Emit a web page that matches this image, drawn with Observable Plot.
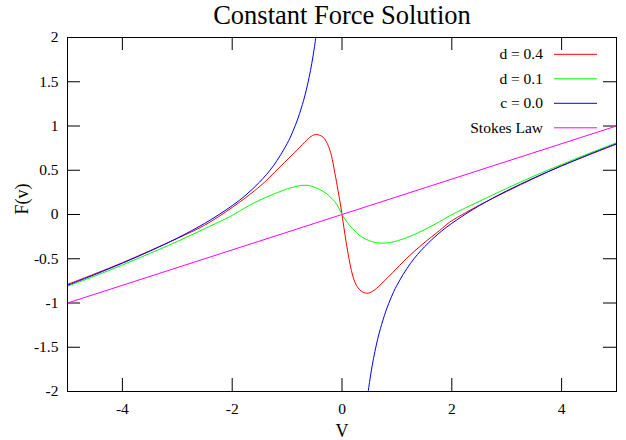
<!DOCTYPE html>
<html>
<head>
<meta charset="utf-8">
<script src="https://cdn.jsdelivr.net/npm/d3@7"></script>
<script src="https://cdn.jsdelivr.net/npm/@observablehq/plot@0.6"></script>
<style>
  html, body { margin: 0; padding: 0; background: white; }
  svg { display: block; }
  svg text { font-family: 'Liberation Serif', 'Times New Roman', serif !important; }
</style>
</head>
<body>
<div id="chart"></div>
<script>
const title = "Constant Force Solution";
const xLabel = "V";
const yLabel = "F(v)";
const xTicks = [-4, -2, 0, 2, 4];
const yTicks = [-2, -1.5, -1, -0.5, 0, 0.5, 1, 1.5, 2];

const legendLabels = ["d = 0.4", "d = 0.1", "c = 0.0", "Stokes Law"];
const seriesColors = ["#ff0000", "#00ff00", "#0000ff", "#ff00ff"];

// d = 0.4 (red)
const redV = [-5, -4.5, -4, -3.5, -3, -2.5, -2, -1.59, -1.41, -1.226, -1.044, -0.862, -0.68, -0.557, -0.466, -0.346, -0.266, -0.193, -0.133, -0.1, -0.073, -0.035, 0,
              0.035, 0.08, 0.125, 0.171, 0.215, 0.262, 0.32, 0.383, 0.474, 0.596, 0.747, 0.93, 1.17, 1.475, 1.78, 1.96, 2.25, 2.5, 3, 3.5, 4, 4.5, 5];
const redF = [-0.79, -0.67, -0.545, -0.41, -0.27, -0.12, 0.08, 0.27, 0.365, 0.478, 0.59, 0.70, 0.817, 0.885, 0.904, 0.874, 0.80, 0.667, 0.478, 0.37, 0.27, 0.14, 0,
              -0.15, -0.331, -0.49, -0.633, -0.73, -0.80, -0.85, -0.878, -0.889, -0.851, -0.765, -0.652, -0.50, -0.331, -0.18, -0.087, 0.02, 0.105, 0.26, 0.41, 0.55, 0.675, 0.795];

// d = 0.1 (green)
const greenV = [-5, -4.5, -4, -3.5, -3, -2.5, -2, -1.8, -1.59, -1.41, -1.226, -1.044, -0.95, -0.862, -0.78, -0.71, -0.64, -0.557, -0.48, -0.406, -0.33, -0.255, -0.18, -0.102, -0.05, 0,
                0.05, 0.14, 0.23, 0.322, 0.43, 0.535, 0.64, 0.747, 0.85, 0.96, 1.17, 1.475, 1.78, 1.96, 2.235, 2.5, 3, 3.5, 4, 4.5, 5];
const greenF = [-0.81, -0.695, -0.57, -0.44, -0.305, -0.16, -0.01, 0.063, 0.135, 0.187, 0.235, 0.279, 0.298, 0.313, 0.324, 0.330, 0.330, 0.321, 0.304, 0.282, 0.256, 0.222, 0.178, 0.121, 0.063, 0,
                -0.05, -0.124, -0.185, -0.237, -0.278, -0.305, -0.32, -0.324, -0.318, -0.305, -0.263, -0.18, -0.08, -0.015, 0.07, 0.148, 0.295, 0.435, 0.565, 0.69, 0.81];

// c = 0.0 (blue), two branches
const blueLeftV = [-5, -4.5, -4, -3.5, -3, -2.5, -2, -1.75, -1.5, -1.25, -1.0, -0.9, -0.8, -0.7, -0.65, -0.6, -0.55, -0.5, -0.46];
const blueLeftF = [-0.80, -0.678, -0.55, -0.414, -0.267, -0.10, 0.10, 0.221, 0.367, 0.55, 0.80, 0.931, 1.09, 1.289, 1.408, 1.547, 1.708, 1.90, 2.082];
const blueRightV = [0.46, 0.5, 0.55, 0.6, 0.65, 0.7, 0.8, 0.9, 1.0, 1.25, 1.5, 1.75, 2.0, 2.5, 3, 3.5, 4, 4.5, 5];
const blueRightF = [-2.082, -1.90, -1.708, -1.547, -1.408, -1.289, -1.09, -0.931, -0.80, -0.55, -0.367, -0.221, -0.10, 0.10, 0.267, 0.414, 0.55, 0.678, 0.80];

// Stokes Law (magenta)
const stokesV = [-5, 5];
const stokesF = [-1, 1];

const toRows = (vs, fs, branch) => vs.map((v, i) => ({v, f: fs[i], branch}));
const redRows = toRows(redV, redF, "r");
const greenRows = toRows(greenV, greenF, "g");
const blueRows = toRows(blueLeftV, blueLeftF, "L").concat(toRows(blueRightV, blueRightF, "R"));
const stokesRows = toRows(stokesV, stokesF, "s");

const W = 626, H = 440, mL = 67, mR = 10, mT = 37, mB = 49;
const frameW = W - mL - mR, frameH = H - mT - mB;
const tickLen = 13;
const font = "'Liberation Serif', 'Times New Roman', serif";

const chart = Plot.plot({
  width: W, height: H,
  marginLeft: mL, marginRight: mR, marginTop: mT, marginBottom: mB,
  x: {domain: [-5, 5]},
  y: {domain: [-2, 2]},
  style: `font-family: ${font}; font-size: 15.5px; color: black; background: white;`,
  marks: [
    Plot.axisX(xTicks, {anchor: "bottom", tickSize: 0, tickPadding: 11, tickFormat: d => String(d), label: null, fontSize: 15.5, fontFamily: font}),
    Plot.axisY(yTicks, {anchor: "left", tickSize: 0, tickPadding: 9, tickFormat: d => String(d), label: null, fontSize: 15.5, fontFamily: font}),
    Plot.tickX(xTicks, {x: d => d, insetTop: frameH - tickLen, stroke: "black"}),
    Plot.tickX(xTicks, {x: d => d, insetBottom: frameH - tickLen, stroke: "black"}),
    Plot.tickY(yTicks, {y: d => d, insetRight: frameW - tickLen, stroke: "black"}),
    Plot.tickY(yTicks, {y: d => d, insetLeft: frameW - tickLen, stroke: "black"}),
    Plot.line(redRows, {x: "v", y: "f", z: "branch", stroke: seriesColors[0], strokeWidth: 1, curve: "catmull-rom", clip: true}),
    Plot.line(greenRows, {x: "v", y: "f", z: "branch", stroke: seriesColors[1], strokeWidth: 1, curve: "catmull-rom", clip: true}),
    Plot.line(blueRows, {x: "v", y: "f", z: "branch", stroke: seriesColors[2], strokeWidth: 1, curve: "catmull-rom", clip: true}),
    Plot.line(stokesRows, {x: "v", y: "f", z: "branch", stroke: seriesColors[3], strokeWidth: 1, clip: true}),
    Plot.frame({stroke: "black", strokeWidth: 1}),
    Plot.text([title], {text: d => d, frameAnchor: "top", dy: -14, lineAnchor: "bottom", fontSize: 26.5, fontFamily: font}),
    Plot.text([xLabel], {text: d => d, frameAnchor: "bottom", dy: 45, lineAnchor: "bottom", fontSize: 18, fontFamily: font}),
    Plot.text([yLabel], {text: d => d, frameAnchor: "left", dx: -45, rotate: -90, fontSize: 18, fontFamily: font})
  ]
});

// Legend (top-right inside frame)
const svg = d3.select(chart);
const right = W - mR;
const leg = svg.append("g").attr("font-family", font).attr("font-size", 15.5);
legendLabels.forEach((lab, i) => {
  const y = mT + 17.3 + i * 24.5;
  leg.append("text")
    .attr("x", right - 73).attr("y", y).attr("dy", "0.32em")
    .attr("text-anchor", "end").attr("fill", "black").text(lab);
  leg.append("line")
    .attr("x1", right - 62).attr("x2", right - 19)
    .attr("y1", y).attr("y2", y)
    .attr("stroke", seriesColors[i]).attr("stroke-width", 1);
});

document.getElementById("chart").appendChild(chart);
</script>
</body>
</html>
